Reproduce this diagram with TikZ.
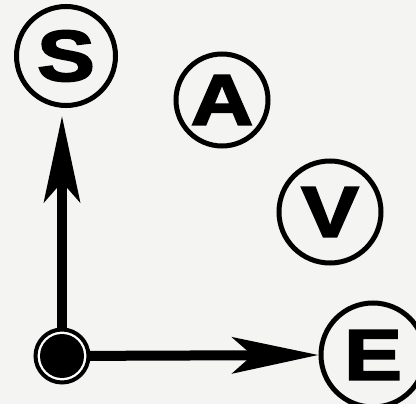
\documentclass[tikz,border=0pt]{standalone}
\usepackage{fontspec}
\usetikzlibrary{arrows.meta}
\newfontfamily\heavy[FakeBold=2.5]{Liberation Sans Bold}
\definecolor{paper}{RGB}{244,244,242}
\tikzset{
  ring/.style={circle, draw=black, line width=5pt, inner sep=0pt,
    font=\heavy\fontsize{72}{72}\selectfont},
  axis/.style={line width=10pt, -{Stealth[length=86pt,width=36pt,inset=20pt]}}
}
\newcommand{\wideletter}[1]{\scalebox{1.2}[1]{#1}}
\begin{document}
\begin{tikzpicture}[x=1pt,y=-1pt]
\fill[paper] (0,0) rectangle (416,404);
\useasboundingbox (0,0) rectangle (416,404);
\coordinate (O) at (62,356);
\node[ring, minimum size=99pt] (S) at (66,56) {\wideletter{S}};
\node[ring, minimum size=92pt] (A) at (222,100) {\wideletter{A}};
\node[ring, minimum size=102pt] (V) at (330,212) {\wideletter{V}};
\node[ring, minimum size=104pt] (E) at (373,355) {\wideletter{E}};
\draw[axis, shorten >=8pt] (O) -- (O |- S.south);
\draw[axis] (O) -- (E.west);
\node[circle, draw=black, line width=4pt, minimum size=53pt, inner sep=0pt, fill=white] (origin) at (O) {};
\node[circle, fill=black, minimum size=44pt, inner sep=0pt] (dot) at (O) {};
\end{tikzpicture}
\end{document}
